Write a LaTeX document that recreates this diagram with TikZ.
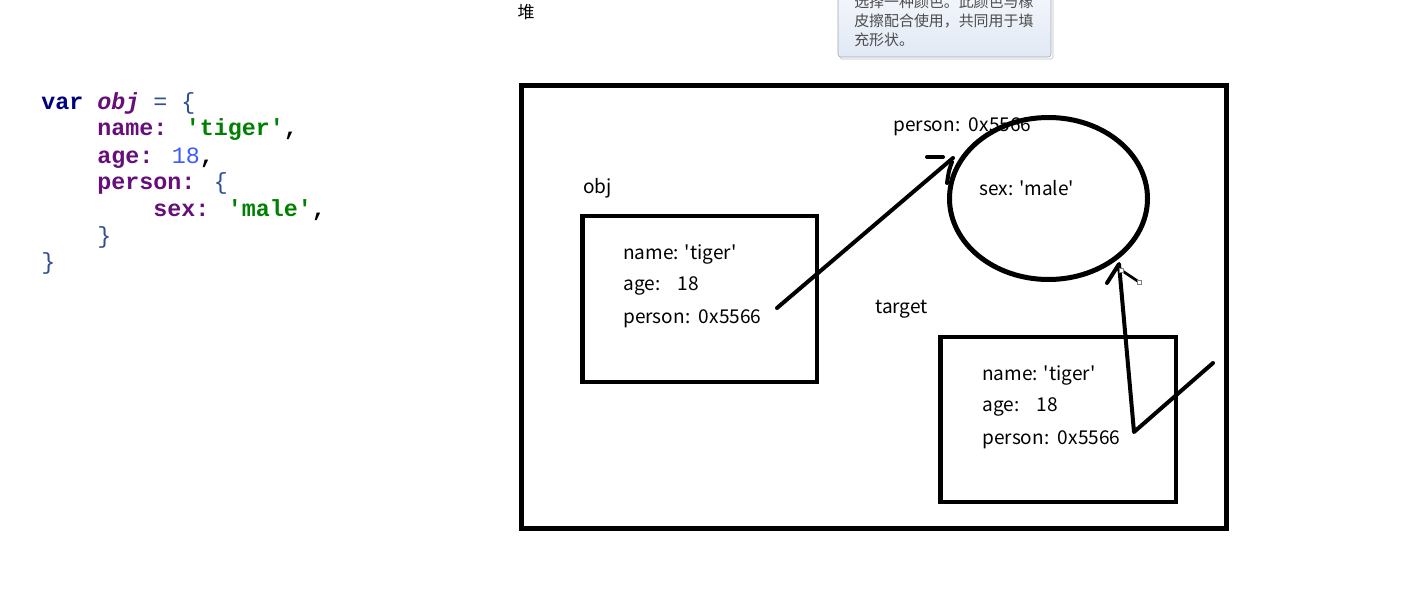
\documentclass[tikz,border=0pt]{standalone}
\usepackage{fontspec}
\setmainfont{Noto Sans CJK SC}[Ligatures=TeXOff]
\newfontfamily\codefont{Liberation Mono}[Ligatures=TeXOff]
\usepackage{tikz}
\usetikzlibrary{shapes.geometric}
\definecolor{kwnavy}{HTML}{000080}
\definecolor{keypurple}{HTML}{660E7A}
\definecolor{strgreen}{HTML}{008000}
\definecolor{numblue}{HTML}{3E5BFF}
\definecolor{bracecol}{HTML}{2F4F8F}
\definecolor{tipborder}{HTML}{9EA4AD}
\definecolor{tiptop}{HTML}{F7F9FD}
\definecolor{tipbottom}{HTML}{E1E9F5}
\definecolor{tiptext}{HTML}{4C4C4C}
\tikzset{
  field/.style={anchor=west,inner sep=0pt,yshift=-2.25pt,font=\fontsize{14.3}{17}\selectfont},
  codeline/.style={anchor=base west,inner sep=0pt,font=\codefont\bfseries\fontsize{17.5}{20}\selectfont},
  heavy/.style={line width=3.6pt},
  pen/.style={line width=3pt,line cap=round,line join=round}
}

\begin{document}
\begin{tikzpicture}[x=0.75pt,y=-0.75pt]
\useasboundingbox (0,0) rectangle (1418,610);

\node[codeline] (c1) at (41,109) {\color{kwnavy}var \color{keypurple}\itshape obj\upshape\mdseries\color{bracecol}\ = \{};
\node[codeline] (c2) at (97,136) {\color{keypurple}name: \color{strgreen}'tiger'\color{black},};
\node[codeline] (c3) at (97,163) {\color{keypurple}age: \mdseries\color{numblue}18\bfseries\color{black},};
\node[codeline] (c4) at (97,190) {\color{keypurple}person: \mdseries\color{bracecol}\{};
\node[codeline] (c5) at (153,216.5) {\color{keypurple}sex: \color{strgreen}'male'\color{black},};
\node[codeline] (c6) at (97,243) {\mdseries\color{bracecol}\}};
\node[codeline] (c7) at (41,269) {\mdseries\color{bracecol}\}};

\node[inner sep=0pt,font=\fontsize{12.75}{14}\selectfont] (heap) at (526,12) {堆};

\draw[tipborder!40,line width=1pt,rounded corners=2pt] (840,-20) rectangle (1053,59);
\draw[tipborder,top color=tiptop,bottom color=tipbottom,rounded corners=2pt] (838,-20) rectangle (1051,57);
\foreach \t/\y in {选择一种颜色。此颜色与橡/2,皮擦配合使用，共同用于填/21,充形状。/40}
  \node[anchor=west,inner sep=0pt,text=tiptext,font=\fontsize{11.2}{13}\selectfont] (tip\y) at (854,\y) {\t};

\draw[line width=3.75pt] (521.5,85.5) rectangle (1226.5,528);
\draw[line width=3.4pt] (582.5,216) rectangle (817,382);
\draw[line width=3.4pt] (940.5,337) rectangle (1176,502);

\node[field] (objlbl) at (583,185) {obj};
\node[field] (tgtlbl) at (875,306) {target};
\node[field] (sexlbl) at (979,185) {sex: 'male'};
\node[field] (ptrlbl) at (893,124) {person:\ \ 0x5566};
\foreach \bx/\by/\nm in {623/251/obj,982/372/tgt}{
  \node[field] (\nm name) at (\bx,\by) {name: 'tiger'};
  \node[field] (\nm age) at (\bx,\by+32) {age:\ \ \ \ 18};
  \node[field] (\nm ptr) at (\bx,\by+65) {person:\ \ 0x5566};
}

\node[draw,ellipse,line width=3.75pt,inner sep=0pt,minimum width=148.5pt,minimum height=121.5pt] (personobj) at (1048.5,198.5) {};

\coordinate (ptrA) at (777,308);
\coordinate (tipA) at (953,158);
\draw[pen] (ptrA) -- (tipA);
\draw[pen] (927,157) -- (943,157);
\draw[pen] (952,162) .. controls (949,170) .. (947,183);

\coordinate (ptrB) at (1213,363);
\coordinate (bendB) at (1134,432);
\coordinate (tipB) at (1119,264);
\draw[pen] (ptrB) -- (bendB) -- (tipB) -- (1107,283);
\draw[line width=2pt] (1121,270) -- (1139,282);
\filldraw[draw=gray,fill=white,line width=0.6pt] (1119,268) rectangle (1123,272);
\filldraw[draw=gray,fill=white,line width=0.6pt] (1137,280) rectangle (1141,284);
\end{tikzpicture}
\end{document}
